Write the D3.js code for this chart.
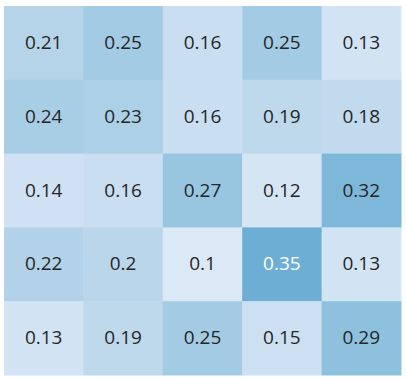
<!DOCTYPE html>
<html>
<head>
<meta charset="utf-8">
<script src="https://cdn.jsdelivr.net/npm/d3@7"></script>
<style>
body { margin: 0; background: #fff; }
</style>
</head>
<body>
<div id="chart"></div>
<script>
var rows = ["r0", "r1", "r2", "r3", "r4"];
var cols = ["c0", "c1", "c2", "c3", "c4"];
var values = [
	[0.21, 0.25, 0.16, 0.25, 0.13],
	[0.24, 0.23, 0.16, 0.19, 0.18],
	[0.14, 0.16, 0.27, 0.12, 0.32],
	[0.22, 0.2, 0.1, 0.35, 0.13],
	[0.13, 0.19, 0.25, 0.15, 0.29]
];
var labels = [
	["0.21", "0.25", "0.16", "0.25", "0.13"],
	["0.24", "0.23", "0.16", "0.19", "0.18"],
	["0.14", "0.16", "0.27", "0.12", "0.32"],
	["0.22", "0.2", "0.1", "0.35", "0.13"],
	["0.13", "0.19", "0.25", "0.15", "0.29"]
];

var w = 406, h = 380;
var svg = d3.select("#chart").append("svg")
	.attr("width", w)
	.attr("height", h);

var x = d3.scaleBand().domain(cols).range([4, 401]);
var y = d3.scaleBand().domain(rows).range([6, 375]);
var color = d3.scaleSequential(d3.interpolateBlues).domain([0, 0.7]);

var cells = [];
values.forEach(function(row, i) {
	row.forEach(function(v, j) {
		cells.push({r: rows[i], c: cols[j], v: v, t: labels[i][j]});
	});
});

svg.selectAll("rect")
	.data(cells)
	.enter()
	.append("rect")
	.attr("x", function(d) { return x(d.c); })
	.attr("y", function(d) { return y(d.r); })
	.attr("width", x.bandwidth() + 0.5)
	.attr("height", y.bandwidth() + 0.5)
	.attr("fill", function(d) { return color(d.v); });

svg.selectAll("text")
	.data(cells)
	.enter()
	.append("text")
	.attr("x", function(d) { return x(d.c) + x.bandwidth() / 2; })
	.attr("y", function(d) { return y(d.r) + y.bandwidth() / 2 - 1; })
	.attr("text-anchor", "middle")
	.attr("dominant-baseline", "central")
	.attr("font-family", "Open Sans")
	.attr("font-size", 19)
	.attr("fill", function(d) { return d.v >= 0.35 ? "#fff" : "#262626"; })
	.text(function(d) { return d.t; });
</script>
</body>
</html>
